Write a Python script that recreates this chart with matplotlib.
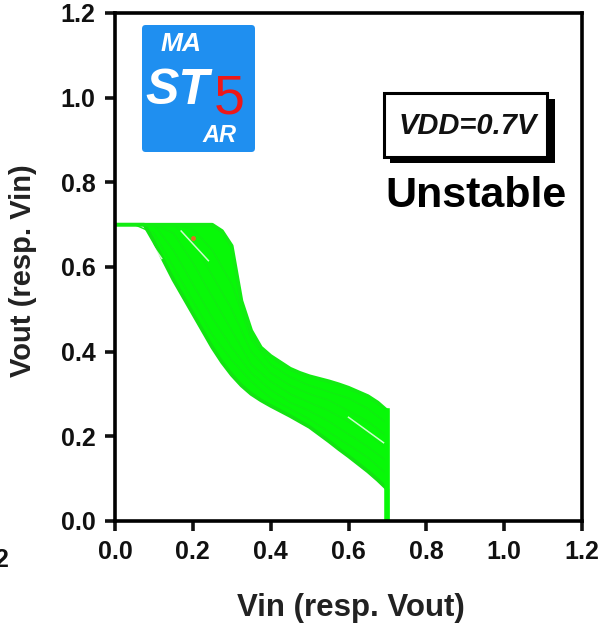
import numpy as np
import matplotlib.pyplot as plt
from matplotlib.patches import FancyBboxPatch, Rectangle

plt.rcParams['font.family'] = ['Liberation Sans', 'DejaVu Sans']

# Monte Carlo butterfly curves (one lobe), VDD = 0.7 V
# outer traces on a fine grid
vin_fine = [0.0, 0.025, 0.05, 0.075, 0.1, 0.125, 0.15, 0.175, 0.2, 0.225, 0.25, 0.275, 0.3,
            0.325, 0.35, 0.375, 0.4, 0.425, 0.45, 0.475, 0.5, 0.525, 0.55, 0.575, 0.6,
            0.625, 0.65, 0.675, 0.7]
vout_low = [0.70, 0.70, 0.70, 0.70, 0.66, 0.615, 0.57, 0.53, 0.49, 0.45, 0.41, 0.375, 0.345,
            0.32, 0.30, 0.285, 0.272, 0.26, 0.248, 0.235, 0.222, 0.205, 0.188, 0.17, 0.153,
            0.135, 0.117, 0.097, 0.075]
vout_high = [0.70, 0.70, 0.70, 0.70, 0.70, 0.70, 0.70, 0.70, 0.70, 0.70, 0.70, 0.685, 0.65,
             0.52, 0.45, 0.41, 0.39, 0.375, 0.36, 0.35, 0.342, 0.336, 0.33, 0.323, 0.315,
             0.305, 0.295, 0.28, 0.26]
# inner traces
vin = [0.0, 0.05, 0.1, 0.15, 0.2, 0.25, 0.3, 0.35, 0.4, 0.45, 0.5, 0.55, 0.6, 0.65, 0.7]
vout_inner = [
    [0.70, 0.70, 0.68, 0.60, 0.52, 0.44, 0.38, 0.33, 0.29, 0.265, 0.24, 0.21, 0.18, 0.15, 0.11],
    [0.70, 0.70, 0.70, 0.64, 0.56, 0.48, 0.41, 0.35, 0.31, 0.28, 0.26, 0.235, 0.205, 0.175, 0.14],
    [0.70, 0.70, 0.70, 0.68, 0.61, 0.53, 0.45, 0.37, 0.33, 0.30, 0.28, 0.26, 0.235, 0.205, 0.17],
    [0.70, 0.70, 0.70, 0.70, 0.66, 0.58, 0.50, 0.40, 0.35, 0.32, 0.30, 0.285, 0.26, 0.235, 0.20],
    [0.70, 0.70, 0.70, 0.70, 0.69, 0.64, 0.56, 0.43, 0.37, 0.34, 0.32, 0.305, 0.29, 0.265, 0.23],
]
# thin gaps between the traces
gap_vin = [[0.17, 0.24], [0.60, 0.69], [0.09, 0.12]]
gap_vout = [[0.685, 0.615], [0.245, 0.185], [0.66, 0.62]]

ticks = [0.0, 0.2, 0.4, 0.6, 0.8, 1.0, 1.2]
W, H = 601, 630

fig = plt.figure(figsize=(W / 100, H / 100), dpi=100)
ax = fig.add_axes([115 / W, 1 - 521 / H, (582 - 115) / W, (521 - 13) / H])

green = '#08f808'
ax.fill_between(vin_fine, vout_low, vout_high, color=green, lw=0, zorder=2)
for v in vout_inner:
    ax.plot(vin + [0.7], v + [0.0], color='#10ee10', lw=1.0, zorder=3)
ax.plot(vin_fine + [0.7], vout_low + [0.0], color='#12e212', lw=2.6, zorder=3,
        solid_capstyle='butt')
ax.plot(vin_fine + [0.7], vout_high + [0.0], color='#12ec12', lw=2.6, zorder=3)
ax.plot([0.7, 0.7], [0.0, vout_high[-1]], color=green, lw=4, zorder=3)
for gx, gy in zip(gap_vin, gap_vout):
    ax.plot(gx, gy, color='white', lw=1.1, alpha=0.8, zorder=4)
ax.plot([0.2], [0.668], 'o', color='#e07020', ms=2.5, zorder=5)

ax.set_xlim(0, 1.2)
ax.set_ylim(0, 1.2)
ax.set_xticks(ticks)
ax.set_yticks(ticks)
ax.set_xticklabels([f'{t:.1f}' for t in ticks])
ax.set_yticklabels([f'{t:.1f}' for t in ticks])
for s in ax.spines.values():
    s.set_linewidth(2.6)
    s.set_zorder(5)
ax.tick_params(direction='out', length=7, width=2.6, pad=7, labelsize=18, colors='#111')
for lab in ax.get_xticklabels() + ax.get_yticklabels():
    lab.set_fontweight('bold')

ax.set_xlabel('Vin (resp. Vout)', fontsize=22.5, fontweight='bold', color='#222')
ax.set_ylabel('Vout (resp. Vin)', fontsize=21, fontweight='bold', color='#222')
ax.xaxis.set_label_coords(351 / W, 1 - 593 / H, transform=fig.transFigure)
ax.yaxis.set_label_coords(37 / W, 1 - 271 / H, transform=fig.transFigure)


def px(x, y):
    return x / W, 1 - y / H


# VDD box with drop shadow
fig.patches.append(Rectangle(px(390, 163), 165 / W, 64 / H, transform=fig.transFigure,
                             facecolor='black', edgecolor='none'))
fig.patches.append(Rectangle(px(384, 157), 163 / W, 64 / H, transform=fig.transFigure,
                             facecolor='white', edgecolor='black', lw=2.2))
fig.text(*px(468, 126), 'VDD=0.7V', fontsize=21, fontweight='bold', style='italic',
         ha='center', va='center', color='#111')
fig.text(*px(476, 196), 'Unstable', fontsize=31, fontweight='bold',
         ha='center', va='center', color='black')

# logo
fig.patches.append(FancyBboxPatch(px(142, 152), 113 / W, 127 / H, transform=fig.transFigure,
                                  boxstyle='round,pad=0,rounding_size=0.006',
                                  facecolor='#1f8ff0', edgecolor='none'))
fig.text(*px(181, 44), 'MA', fontsize=19, fontweight='bold', style='italic',
         ha='center', va='center', color='white')
fig.text(*px(177, 91), 'ST', fontsize=36, fontweight='bold', style='italic',
         ha='center', va='center', color='white')
fig.text(*px(229, 100), '5', fontsize=40,
         ha='center', va='center', color='#ee1818')
fig.text(*px(219, 135), 'AR', fontsize=17, fontweight='bold', style='italic',
         ha='center', va='center', color='white')

# edge of the neighbouring panel's tick label
fig.text(*px(9, 560), '1.2', fontsize=18, fontweight='bold', ha='right', va='center', color='#111')

fig.savefig('out.png', dpi=100)
